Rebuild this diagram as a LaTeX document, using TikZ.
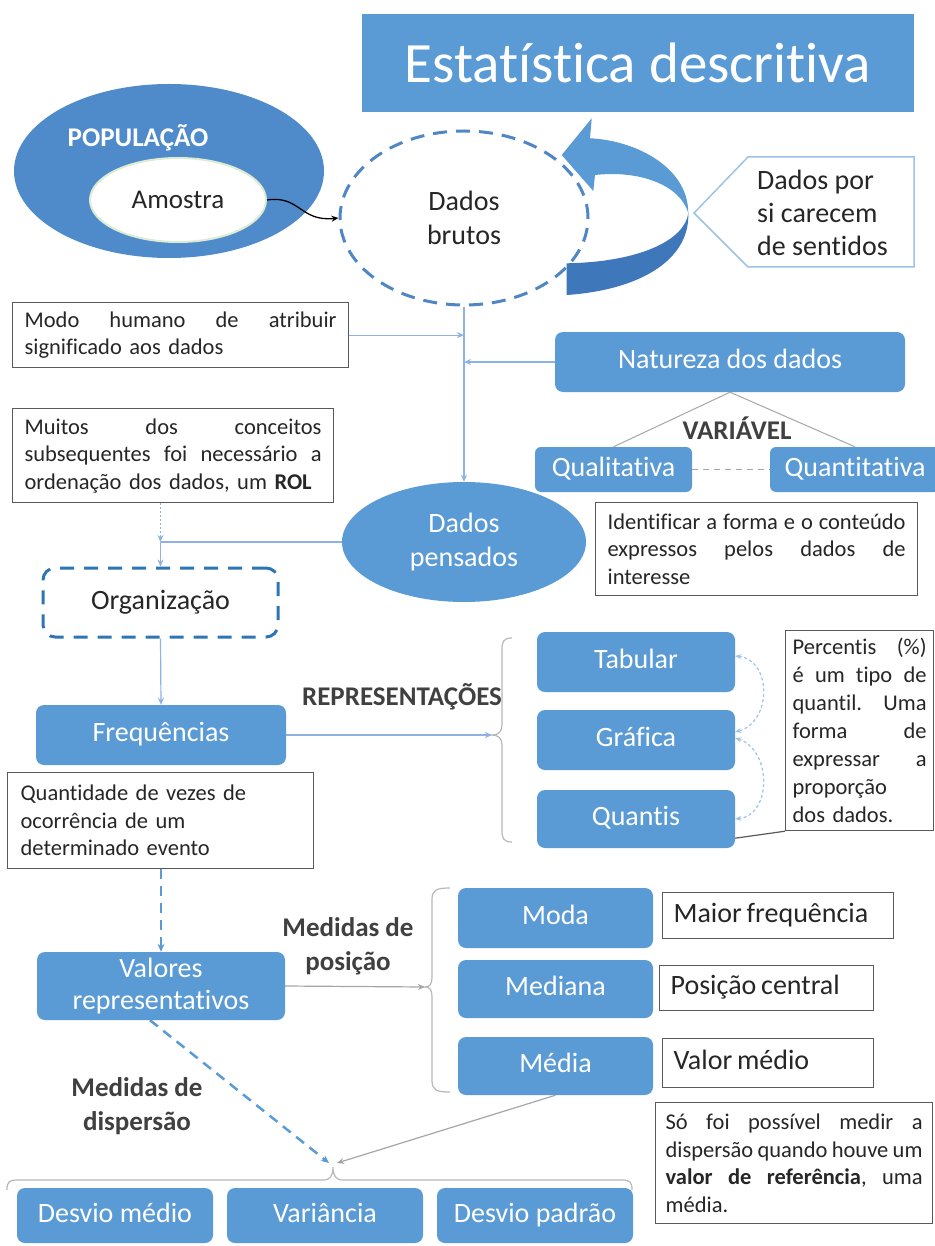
\documentclass[tikz,border=0pt]{standalone}
\usepackage{fontspec}
\setmainfont{Carlito}[Ligatures={NoCommon}]
\usetikzlibrary{shapes.geometric,arrows.meta}
\definecolor{boxblue}{HTML}{5B9BD5}
\definecolor{popblue}{HTML}{4F8BCB}
\definecolor{darkarrow}{HTML}{3E78BA}
\definecolor{dashblue}{HTML}{4F86C6}
\definecolor{orgblue}{HTML}{2E75B6}
\definecolor{connblue}{HTML}{8DB3E2}
\definecolor{linegray}{HTML}{A6A6A6}
\definecolor{notegray}{HTML}{595959}
\definecolor{notetext}{HTML}{262626}
\definecolor{lblgray}{HTML}{404040}
\definecolor{calloutblue}{HTML}{9DC3E6}
\definecolor{amgreen}{HTML}{DCEBD2}
\newcommand\jl[2]{\makebox[#1pt][l]{#2}}
\newcommand\hf{\hspace{0pt plus 1fill}}
\newcommand\tsp{\hspace{0.17em}}
\begin{document}
\begin{tikzpicture}[x=1pt,y=-1pt,
  bluebox/.style={rectangle, rounded corners=8pt, fill=boxblue, text=white, inner sep=0pt, align=center, font=\fontsize{28}{33}\selectfont},
  sbox/.style={bluebox, text height=19pt, text depth=6pt},
  note/.style={rectangle, draw=notegray, line width=1.2pt, fill=white, text=notetext, inner ysep=2pt, align=left, anchor=north west, font=\fontsize{22.5}{27.5}\selectfont},
  bignote/.style={rectangle, draw=notegray, line width=1.2pt, fill=white, text=notetext, inner xsep=11pt, inner ysep=0pt, align=left, anchor=north west, text height=19pt, text depth=6pt, font=\fontsize{28}{33}\selectfont},
  lbl/.style={text=lblgray, inner sep=0pt, align=center, font=\bfseries\fontsize{27}{34}\selectfont},
  conn/.style={draw=connblue, line width=1.2pt, -{Stealth[length=7pt,width=6pt]}},
  grayconn/.style={draw=linegray, line width=1.2pt, -{Stealth[length=7pt,width=6pt]}},
  dashconn/.style={draw=boxblue, line width=2.5pt, dash pattern=on 10pt off 7pt, -{Stealth[length=8pt,width=7pt]}},
  dotconn/.style={draw=connblue, line width=1.2pt, dash pattern=on 2pt off 2pt, -{Stealth[length=7pt,width=6pt]}},
  bracestyle/.style={draw=linegray!80, line width=1.2pt},
]
\useasboundingbox (0,0) rectangle (934,1246);
\fill[white] (0,0) rectangle (934,1246);

% title
\node[rectangle, fill=boxblue, text=white, minimum width=552, minimum height=98, inner sep=0pt, font=\fontsize{57}{60}\selectfont] (title) at (638,63) {Estatística descritiva};

% population
\node[ellipse, fill=popblue, minimum width=310, minimum height=174, inner sep=0pt] (pop) at (169,171) {};
\node[text=white, inner sep=0pt, font=\bfseries\fontsize{27}{32}\selectfont] (poplbl) at (138,138) {POPULAÇÃO};
\node[ellipse, fill=white, draw=amgreen, line width=2pt, minimum width=176, minimum height=84, inner sep=0pt, text=notetext, font=\fontsize{27}{32}\selectfont] (amostra) at (178,200) {Amostra};

% dados brutos
\node[ellipse, draw=dashblue, line width=3pt, dash pattern=on 14pt off 9pt, minimum width=248, minimum height=174, inner sep=0pt, align=center, text=notetext, font=\fontsize{28}{34}\selectfont] (brutos) at (464,218) {Dados\\brutos};

\draw[black, line width=1.3pt, -{Stealth[length=7pt,width=6pt]}] (amostra.east) .. controls (300,195) and (300,222) .. (brutos.west);

% curved arrow
\fill[darkarrow] (688.3,213) .. controls (685,240) and (640,262) .. (566.7,263.3) -- (566.7,295) .. controls (640,290) and (690,260) .. (688.3,213) -- cycle;
\fill[boxblue] (591.7,118.3) -- (590,138.3) .. controls (632,140) and (688,165) .. (688.3,213) .. controls (680,185) and (640,170) .. (595,175) -- (593.3,191) -- (561.7,155) -- cycle;

% callout
\draw[draw=calloutblue, line width=1.5pt, fill=white] (694,213) -- (748,157) -- (914,157) -- (914,267) -- (748,267) -- cycle;
\node[anchor=west, align=left, inner sep=0pt, text=notetext, font=\fontsize{28}{33}\selectfont] (carecem) at (757,213) {Dados por\\si carecem\\de sentidos};

% notes
\node[note, inner xsep=12pt, text width=312, minimum height=65] (modo) at (12,302) {\jl{312}{Modo\hf humano\hf de\hf atribuir}\\significado aos dados};
\node[note, inner xsep=12pt, text width=297, minimum height=94] (muitos) at (12,408) {\jl{297}{Muitos\hf dos\hf conceitos}\\\jl{297}{subsequentes\hf foi\hf necessário\hf a}\\ordenação dos dados, um \textbf{ROL}};

% natureza
\node[sbox, minimum width=350, minimum height=60] (natureza) at (730,362) {Natureza dos dados};
\node[lbl] (variavel) at (737,428) {VARIÁVEL};
\node[sbox, rounded corners=6pt, minimum width=157, minimum height=45] (qualit) at (613.5,469.5) {Qualitativa};
\node[sbox, rounded corners=6pt, minimum width=170, minimum height=45] (quantit) at (855,469.5) {Quantitativa};
\draw[draw=linegray, line width=1pt] (natureza.south) -- (qualit.north);
\draw[draw=linegray, line width=1pt] (natureza.south) -- (quantit.north);
\draw[draw=linegray, line width=1.2pt, dash pattern=on 6pt off 5pt] (qualit.east) -- (quantit.west);
\node[note, inner xsep=12pt, text width=298, minimum height=93] (ident) at (595,502) {\jl{298}{Identificar\hf a\hf forma\hf e\hf o\hf conteúdo}\\\jl{298}{expressos\hf pelos\hf dados\hf de}\\interesse};

% dados pensados
\node[ellipse, fill=boxblue, minimum width=244, minimum height=120, inner sep=0pt, text=white, align=center, font=\fontsize{28}{34}\selectfont] (dp) at (464,542) {Dados\\pensados};

\draw[conn] (brutos.south) -- (dp.north);
\draw[conn] (modo.east) -- (modo.east -| brutos.south);
\draw[conn] (natureza.west) -- (natureza.west -| brutos.south);

% organizacao
\node[rectangle, rounded corners=12pt, draw=orgblue, line width=3pt, dash pattern=on 14pt off 10pt, minimum width=235, minimum height=69, inner sep=0pt, text=notetext, text height=19pt, text depth=6pt, font=\fontsize{28}{33}\selectfont] (org) at (160.5,602.5) {Organização};
\coordinate (j1) at (160.5,542);
\draw[conn, -] (dp.west) -- (j1);
\draw[conn] (j1) -- (org.north);
\draw[dotconn] (muitos.south -| org.north) -- (j1);

% frequencias
\node[sbox, minimum width=250, minimum height=60] (freq) at (161,735) {Frequências};
\draw[conn] (org.south) -- (freq.north);
\node[note, inner xsep=13pt, text width=280, minimum height=96] (quantidade) at (7,772) {Quantidade de vezes de\\ocorrência de um\\determinado evento};

\node[lbl] (repr) at (402,697) {REPRESENTAÇÕES};
\coordinate (b1tip) at (492,735);
\draw[bracestyle] (512,638) .. controls (503,638) and (502,642) .. (502,650) -- (502,725) .. controls (502,732) and (498,735) .. (b1tip) .. controls (498,735) and (502,738) .. (502,745) -- (502,830) .. controls (502,838) and (503,842) .. (512,842);
\draw[conn] (freq.east) -- (b1tip);

\node[sbox, minimum width=198, minimum height=60] (tab) at (636,662) {Tabular};
\node[sbox, minimum width=198, minimum height=60] (graf) at (636,740) {Gráfica};
\node[sbox, minimum width=198, minimum height=58] (quant) at (636,819) {Quantis};
\draw[draw=calloutblue, line width=1.2pt, dash pattern=on 3pt off 2.5pt, {Stealth[length=6pt,width=5pt]}-{Stealth[length=6pt,width=5pt]}] ([yshift=6pt]tab.east) .. controls (772,660) and (772,722) .. ([yshift=8pt]graf.east);
\draw[draw=calloutblue, line width=1.2pt, dash pattern=on 3pt off 2.5pt, {Stealth[length=6pt,width=5pt]}-{Stealth[length=6pt,width=5pt]}] ([yshift=2pt]graf.east) .. controls (772,750) and (772,815) .. (quant.east);

\node[note, inner xsep=7pt, text width=134, minimum height=200, font=\fontsize{22.5}{28}\selectfont] (percentis) at (785,630) {\jl{134}{Percentis\hf (\%)}\\\jl{134}{é\hf um\hf tipo\hf de}\\\jl{134}{quantil.\hf Uma}\\\jl{134}{forma\hf de}\\\jl{134}{expressar\hf a}\\proporção\\dos dados.};
\draw[draw=notegray, line width=1.2pt] ([yshift=10pt]quant.south east) -- (percentis.south west);

% valores
\node[bluebox, minimum width=248, minimum height=68, font=\fontsize{28}{32}\selectfont] (valores) at (161,986) {Valores\\representativos};
\draw[dashconn] (quantidade.south -| valores.north) -- (valores.north);
\node[lbl] (medpos) at (348,946) {Medidas de\\posição};
\coordinate (b2tip) at (425,987);
\draw[bracestyle] (450,888) .. controls (436,888) and (432,890) .. (432,900) -- (432,977) .. controls (432,984) and (430,987) .. (b2tip) .. controls (430,987) and (432,990) .. (432,997) -- (432,1080) .. controls (432,1090) and (436,1092) .. (450,1092);
\draw[grayconn] (valores.east) -- (b2tip);

\node[sbox, minimum width=195, minimum height=60] (moda) at (555.5,918) {Moda};
\node[sbox, minimum width=195, minimum height=58] (mediana) at (555.5,989) {Mediana};
\node[sbox, minimum width=195, minimum height=58] (media) at (555.5,1066) {Média};
\node[bignote, text width=209, minimum height=46] (maior) at (662,892) {Maior\tsp frequência};
\node[bignote, text width=192, minimum height=45] (posc) at (659,965) {Posição\tsp central};
\node[bignote, text width=189, minimum height=49] (valm) at (662,1038) {Valor\tsp médio};
\node[note, inner xsep=10pt, text width=257, minimum height=121] (sofoi) at (655,1102) {\jl{257}{Só\hf foi\hf possível\hf medir\hf a}\\\jl{257}{dispersão\hf quando\hf houve\hf um}\\\jl{257}{\textbf{valor}\hf\textbf{de}\hf\textbf{referência},\hf uma}\\média.};

% dispersao
\node[lbl] (meddisp) at (137,1106) {Medidas de\\dispersão};
\coordinate (b3tip) at (333,1167);
\draw[bracestyle] (7,1190) .. controls (7,1182) and (9,1180) .. (17,1180) -- (323,1180) .. controls (330,1180) and (333,1176) .. (b3tip) .. controls (333,1176) and (336,1180) .. (343,1180) -- (622,1180) .. controls (630,1180) and (632,1182) .. (632,1190);
\draw[dashconn] ([xshift=-11pt]valores.south) -- ([xshift=-4pt,yshift=4pt]b3tip);
\draw[grayconn] (media.south) -- ([xshift=4pt,yshift=4pt]b3tip);

\node[sbox, minimum width=196, minimum height=55] (desvm) at (115,1215.5) {Desvio médio};
\node[sbox, minimum width=196, minimum height=55] (var) at (325,1215.5) {Variância};
\node[sbox, minimum width=196, minimum height=55] (desvp) at (535,1215.5) {Desvio padrão};
\end{tikzpicture}
\end{document}
